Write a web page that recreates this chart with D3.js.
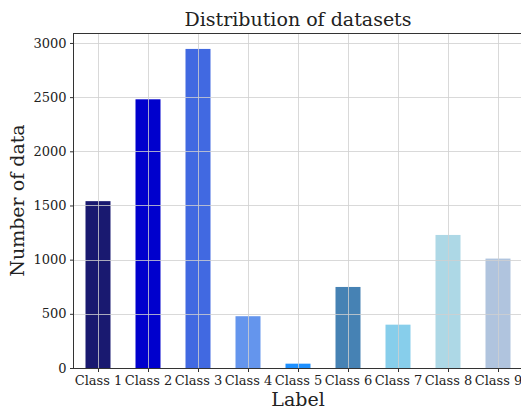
<!DOCTYPE html>
<html>
<head>
<meta charset="utf-8">
<script src="https://cdn.jsdelivr.net/npm/d3@7"></script>
<style>
  body { margin: 0; background: #fff; }
  text { font-family: "DejaVu Serif", serif; fill: #222; }
</style>
</head>
<body>
<script>
// data
const labels = ["Class 1", "Class 2", "Class 3", "Class 4", "Class 5", "Class 6", "Class 7", "Class 8", "Class 9"];
const counts = [1540, 2480, 2945, 478, 40, 748, 400, 1228, 1010];
const colors = ["#191970", "#0000cd", "#4169e1", "#6495ed", "#1e90ff", "#4682b4", "#87ceeb", "#add8e6", "#b0c4de"];
const yTicks = [0, 500, 1000, 1500, 2000, 2500, 3000];

const width = 521, height = 410;
const mLeft = 73, mRight = 523, mTop = 33, mBottom = 368;

const svg = d3.select("body").append("svg")
    .attr("width", width)
    .attr("height", height);

// matplotlib-ish x limits: -0.5 .. 8.5
const x = d3.scaleLinear().domain([-0.5, 8.5]).range([mLeft, mRight]);
const y = d3.scaleLinear().domain([0, 3092]).range([mBottom, mTop]);
const barW = x(0.25) - x(-0.25);

// bars
svg.append("g")
    .selectAll("rect")
    .data(counts)
    .enter().append("rect")
    .attr("x", (d, i) => x(i) - barW / 2)
    .attr("y", d => y(d))
    .attr("width", barW)
    .attr("height", d => y(0) - y(d))
    .attr("fill", (d, i) => colors[i]);

// grid on top of the bars
const grid = svg.append("g").attr("stroke", "#d0d0d0").attr("stroke-opacity", 0.8).attr("stroke-width", 1);
grid.selectAll(".gy")
    .data(yTicks)
    .enter().append("line")
    .attr("x1", mLeft).attr("x2", mRight)
    .attr("y1", d => Math.round(y(d)) + 0.5).attr("y2", d => Math.round(y(d)) + 0.5);
grid.selectAll(".gx")
    .data(labels)
    .enter().append("line")
    .attr("y1", mTop).attr("y2", mBottom)
    .attr("x1", (d, i) => Math.round(x(i)) + 0.5).attr("x2", (d, i) => Math.round(x(i)) + 0.5);

// axes
const yAxis = d3.axisLeft(y).tickValues(yTicks).tickSize(3.5).tickPadding(3.5).tickFormat(d3.format("d"));
const xAxis = d3.axisBottom(x).tickValues(d3.range(labels.length)).tickSize(3.5).tickPadding(3.5)
    .tickFormat(i => labels[i]);

const gy = svg.append("g").attr("transform", `translate(${mLeft + 0.5},0)`).call(yAxis);
gy.select(".domain").remove();
gy.selectAll("line").attr("stroke", "#333");
gy.selectAll("text").style("font-size", "13px").attr("fill", "#222");

const gx = svg.append("g").attr("transform", `translate(0,${mBottom + 0.5})`).call(xAxis);
gx.select(".domain").remove();
gx.selectAll("line").attr("stroke", "#333");
gx.selectAll("text").style("font-size", "13px").attr("fill", "#222");

// spines
svg.append("rect")
    .attr("x", mLeft + 0.5).attr("y", mTop + 0.5)
    .attr("width", mRight - mLeft).attr("height", mBottom - mTop)
    .attr("fill", "none").attr("stroke", "#333").attr("stroke-width", 1);

// titles
svg.append("text")
    .attr("x", (mLeft + mRight) / 2).attr("y", 26)
    .attr("text-anchor", "middle")
    .style("font-size", "19px")
    .text("Distribution of datasets");

svg.append("text")
    .attr("x", (mLeft + mRight) / 2).attr("y", 406)
    .attr("text-anchor", "middle")
    .style("font-size", "19px")
    .text("Label");

svg.append("text")
    .attr("transform", `translate(24,${(mTop + mBottom) / 2}) rotate(-90)`)
    .attr("text-anchor", "middle")
    .style("font-size", "19px")
    .text("Number of data");
</script>
</body>
</html>
